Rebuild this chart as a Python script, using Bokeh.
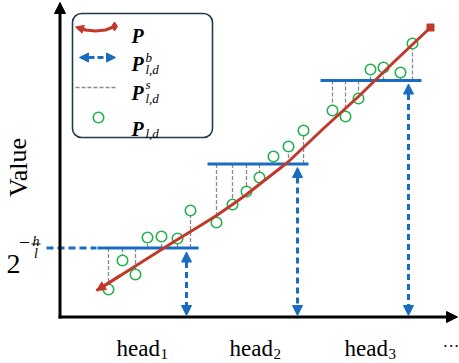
from bokeh.plotting import figure
from bokeh.models import Range1d, Arrow, NormalHead, BoxAnnotation, ColumnDataSource
from bokeh.core.properties import value
from bokeh.embed import file_html
from bokeh.resources import INLINE

RED = "#c0392b"
BLUE = "#1a6cc0"
GREEN = "#22b14c"
GREY = "#8a8a8a"
DARK = "#1f3b4d"

# ---- data (diagram units) ----
curve_x = [96, 120, 150, 177, 200, 216, 232, 246, 260, 287, 323, 358, 395, 430]
curve_y = [73, 88, 107, 124, 138, 148, 159, 169, 180, 201, 235, 267, 303, 336]

head_names = ["head", "head", "head"]
head_subs = ["1", "2", "3"]
head_sub_x = [160, 273, 388]

level_x0 = [97, 207, 320]
level_x1 = [198, 308, 421]
level_y = [115.5, 199.5, 283]

arrow_x = [186, 297, 408]
arrow_top = [111.5, 196, 279.5]
arrow_bottom = [48, 48, 48]

g1_x = [108, 122, 135, 147, 161, 177, 190]
g1_y = [74, 103, 89, 126, 127, 125, 153]
g2_x = [216, 232, 246, 259, 273, 288, 303]
g2_y = [141, 159, 172, 186, 207, 217, 233]
g3_x = [332, 345, 358, 370, 383, 400, 412]
g3_y = [253, 247, 265, 294, 296, 291, 320]

threshold_x = [46, 96]

axis_origin = (59.5, 46.5)
axis_x_end = 457
axis_y_end = 361

legend_box = dict(left=72, right=212, bottom=226, top=350)
leg_red_x = [77, 85, 95, 105, 114]
leg_red_y = [336, 333.5, 332.5, 333.5, 337]
leg_arrow = (77, 117, 306)
leg_grey = (75, 117, 276)
leg_circle = (98, 246)

p = figure(width=459, height=363, x_range=Range1d(0, 459), y_range=Range1d(0, 363),
           output_backend="svg", toolbar_location=None, min_border=0,
           x_axis_location=None, y_axis_location=None)
p.grid.visible = False
p.outline_line_color = None
p.background_fill_color = "white"
p.border_fill_color = "white"

# legend box (under everything)
p.add_layout(BoxAnnotation(fill_color="white", fill_alpha=1, line_color=DARK, line_alpha=1,
                           line_width=1.6, border_radius=9, level="underlay", **legend_box))

# axes
ox, oy = axis_origin
p.add_layout(Arrow(end=NormalHead(size=11, fill_color="black", line_color="black"),
                   x_start=ox, y_start=oy - 1.5, x_end=ox, y_end=axis_y_end,
                   line_width=3, line_color="black"))
p.add_layout(Arrow(end=NormalHead(size=11, fill_color="black", line_color="black"),
                   x_start=ox - 1.5, y_start=oy, x_end=axis_x_end, y_end=oy,
                   line_width=3, line_color="black"))

# stems
sx, sy0, sy1 = [], [], []
for xs, ys, lv in [(g1_x, g1_y, level_y[0]), (g2_x, g2_y, level_y[1]), (g3_x, g3_y, level_y[2])]:
    for x, y in zip(xs, ys):
        sx.append(x); sy0.append(lv); sy1.append(y)
p.segment(x0=sx, y0=sy0, x1=sx, y1=sy1, line_color=GREY, line_width=1.3, line_dash="4 2")

# threshold dashed
p.line(threshold_x, [level_y[0]] * 2, line_color=BLUE, line_width=3, line_dash="7 4")
# level lines
p.segment(x0=level_x0, y0=level_y, x1=level_x1, y1=level_y, line_color=BLUE, line_width=3)

# vertical double arrows
asrc = ColumnDataSource(dict(x=arrow_x, y0=arrow_top, y1=arrow_bottom))
p.add_layout(Arrow(start=NormalHead(size=10, fill_color=BLUE, line_color=BLUE),
                   end=NormalHead(size=10, fill_color=BLUE, line_color=BLUE),
                   x_start="x", y_start="y0", x_end="x", y_end="y1", source=asrc,
                   line_color=BLUE, line_width=3, line_dash="6 4"))

# circles
p.scatter(g1_x + g2_x + g3_x, g1_y + g2_y + g3_y, marker="circle", size=10.5,
          fill_color="white", line_color=GREEN, line_width=1.6)

# curve P
p.line(curve_x, curve_y, line_color=RED, line_width=3)
p.add_layout(Arrow(end=NormalHead(size=9, fill_color=RED, line_color=RED),
                   x_start=curve_x[1], y_start=curve_y[1], x_end=curve_x[0], y_end=curve_y[0],
                   line_color=RED, line_width=3))
p.scatter([curve_x[-1]], [curve_y[-1]], marker="square", size=7, fill_color=RED, line_color=RED)

# legend samples
p.line(leg_red_x, leg_red_y, line_color=RED, line_width=3)
p.add_layout(Arrow(end=NormalHead(size=8, fill_color=RED, line_color=RED),
                   x_start=leg_red_x[1], y_start=leg_red_y[1], x_end=leg_red_x[0] - 2,
                   y_end=leg_red_y[0] + 0.5, line_color=RED, line_width=3))
p.scatter([leg_red_x[-1]], [leg_red_y[-1]], marker="diamond",
          size=9, fill_color=RED, line_color=RED)
ax0, ax1, ay = leg_arrow
p.add_layout(Arrow(start=NormalHead(size=9, fill_color=BLUE, line_color=BLUE),
                   end=NormalHead(size=9, fill_color=BLUE, line_color=BLUE),
                   x_start=ax0 + 2, y_start=ay, x_end=ax1 - 2, y_end=ay,
                   line_color=BLUE, line_width=3, line_dash="6 3"))
gx0, gx1, gy = leg_grey
p.line([gx0, gx1], [gy, gy], line_color=GREY, line_width=1.3, line_dash="4 2")
p.scatter([leg_circle[0]], [leg_circle[1]], marker="circle", size=10.5, fill_color="white",
          line_color=GREEN, line_width=1.6)

# fraction bar of 2^{-h/l}
p.line([31, 40], [119.5, 119.5], line_color="black", line_width=1.2)

# ---- texts ----
T = dict(x=[], y=[], text=[], size=[], style=[], align=[], baseline=[], angle=[])


def lab(x, y, t, size, style="normal", align="left", baseline="alphabetic", angle=0.0):
    T["x"].append(x); T["y"].append(y); T["text"].append(t)
    T["size"].append(f"{size}px"); T["style"].append(style); T["align"].append(align)
    T["baseline"].append(baseline); T["angle"].append(angle)


leg_P_y = [328, 300, 271, 235]
for y in leg_P_y:
    lab(131, y, "P", 20, "bold italic")
lab(145, 306, "b", 13, "italic")
lab(145, 294, "l,d", 13, "italic")
lab(145, 279, "s", 13, "italic")
lab(145, 265, "l,d", 13, "italic")
lab(145, 230, "l,d", 13, "italic")

lab(17.5, 196, "Value", 26, align="center", baseline="middle", angle=1.5708)

lab(6, 100, "2", 28)
lab(24, 121.5, "\u2212", 20, align="center", baseline="middle")
lab(35.5, 122, "h", 14, "italic", align="center")
lab(35.5, 110, "l", 14, "italic", align="center")

for name, sub, x in zip(head_names, head_subs, head_sub_x):
    lab(x - 0.5, 15, name, 23, align="right")
    lab(x, 10, sub, 15)
lab(442, 17, "\u00b7\u00b7\u00b7", 17)

tsrc = ColumnDataSource(T)
p.text(x="x", y="y", text="text", source=tsrc, text_font=value("Liberation Serif"),
       text_font_size="size", text_font_style="style", text_align="align",
       text_baseline="baseline", angle="angle", text_color="black")

open("out.html", "w").write(file_html(p, INLINE))
